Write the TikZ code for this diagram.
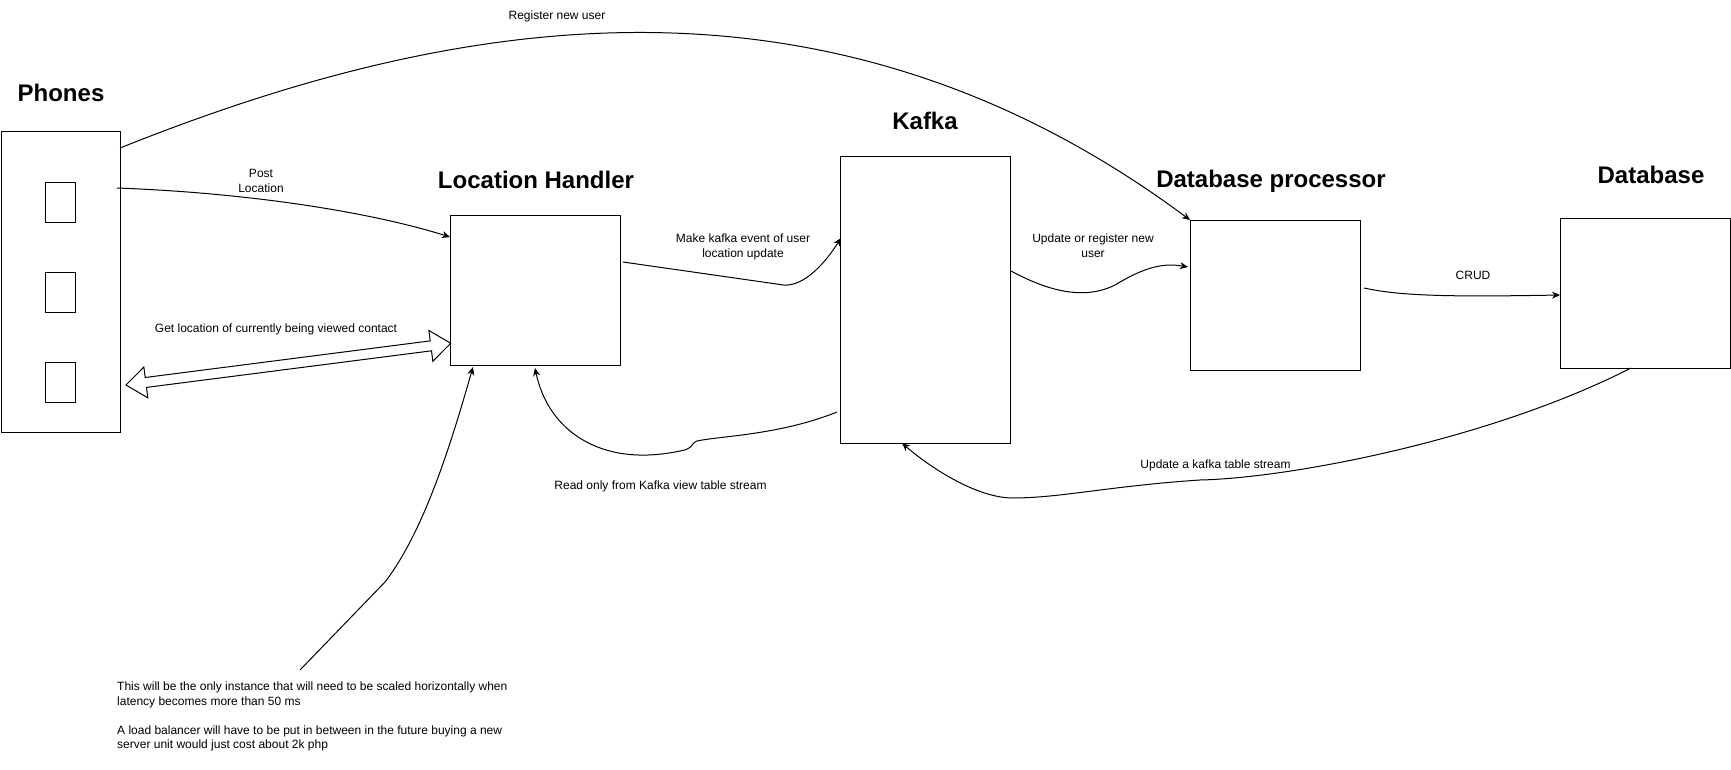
\documentclass[tikz,border=0pt]{standalone}
\usepackage{fontspec}
\setmainfont{Liberation Sans}
\usetikzlibrary{arrows.meta,calc}
\begin{document}
\begin{tikzpicture}[x=1pt,y=-1pt,
  box/.style={draw=black,line width=1pt,fill=white,inner sep=0pt,outer sep=0pt},
  ttl/.style={font=\fontsize{24}{29}\selectfont\bfseries,inner sep=0pt,anchor=base},
  lbl/.style={font=\fontsize{12}{15}\selectfont,inner sep=0pt,align=center},
  conn/.style={line width=1pt,-{Stealth[length=8pt,width=7pt,inset=2.5pt]}},
  hollow/.style={draw=black,fill=white,line width=1pt,line join=miter},
]
\useasboundingbox (0,0) rectangle (1731,770);

% boxes
\node[box,minimum width=119pt,minimum height=300pt] (ph) at (60.5,282) {};
\node[box,minimum width=30pt,minimum height=40pt] (s1) at (60.5,202.5) {};
\node[box,minimum width=30pt,minimum height=40pt] (s2) at (60.5,292.5) {};
\node[box,minimum width=30pt,minimum height=40pt] (s3) at (60.5,382.5) {};
\node[box,minimum width=170pt,minimum height=150pt] (lh) at (535,290) {};
\node[box,minimum width=170pt,minimum height=286pt] (kf) at (925,300) {};
\node[box,minimum width=170pt,minimum height=150pt] (dbp) at (1275,295) {};
\node[box,minimum width=170pt,minimum height=150pt] (db) at (1645,293) {};

% titles
\node[ttl] (tph) at (61,102) {Phones};
\node[ttl] (tlh) at (536,189) {Location Handler};
\node[ttl] (tkf) at (925,130) {Kafka};
\node[ttl] (tdbp) at (1271,188) {Database processor};
\node[ttl] (tdb) at (1651,183) {Database};

% labels
\node[lbl] (lreg) at (557,16) {Register new user};
\node[lbl] (lpost) at (261,181) {Post\\Location};
\node[lbl] (lget) at (276,329) {Get location of currently being viewed contact};
\node[lbl] (lmk) at (743,246.5) {Make kafka event of user\\location update};
\node[lbl] (lupd) at (1093,246) {Update or register new\\user};
\node[lbl] (lcrud) at (1473,275.5) {CRUD};
\node[lbl] (ltbl) at (1215.5,465.5) {Update a kafka table stream};
\node[lbl] (lread) at (660.5,486) {Read only from Kafka view table stream};
\node[font=\fontsize{12}{14.4}\selectfont,align=left,anchor=west,inner sep=0pt] (note) at (117,716.5)
  {This will be the only instance that will need to be scaled horizontally when\\
   latency becomes more than 50 ms\\[14.4pt]
   A load balancer will have to be put in between in the future buying a new\\
   server unit would just cost about 2k php};

% connectors
\draw[conn] ($(ph.north east)+(0,16)$) .. controls (440,20) and (820,-55) .. (dbp.north west);
\draw[conn] ($(ph.north east)+(-3,56)$) .. controls (250,193) and (370,212) .. ($(lh.north west)+(0,22)$);
\draw[conn] ($(lh.north east)+(3,47)$) -- (780,284.5) .. controls (800,289) and (822,268) .. ($(kf.north west)+(1,81)$);
\draw[conn] ($(kf.north east)+(1,114)$) .. controls (1050,292) and (1085,300) .. (1115,285)
  .. controls (1140,270) and (1160,262) .. ($(dbp.north west)+(-2,47)$);
\draw[conn] ($(dbp.north east)+(4,68)$) .. controls (1400,296) and (1450,297) .. ($(db.north west)+(0,77)$);
\draw[conn] ($(db.south west)+(71,0)$) .. controls (1490,440) and (1290,478) .. (1200,480)
  .. controls (1110,486) and (1060,498) .. (1013,498)
  .. controls (975,498) and (927,465) .. ($(kf.south west)+(62,0)$);
\draw[conn] ($(kf.south west)+(-3,-31)$) .. controls (780,435) and (720,436) .. (697,441)
  .. controls (691,442.5) and (694,449) .. (680,451)
  .. controls (600,468) and (548,430) .. ($(lh.south west)+(85,3)$);
\coordinate (nt) at (300,670);
\draw[conn] (nt) -- (385,582) .. controls (425,530) and (452,440) .. ($(lh.south west)+(23,2)$);

% hollow double arrow
\coordinate (dL) at ($(ph.south east)+(6,-47)$);
\coordinate (dR) at ($(lh.south west)+(0.7,-21.7)$);
\coordinate (dA) at ($(dL)!20pt!(dR)$);
\coordinate (dB) at ($(dR)!20pt!(dL)$);
\draw[hollow] (dL) -- ($(dA)!15.5pt!90:(dR)$) -- ($(dA)!5pt!90:(dR)$) -- ($(dB)!5pt!-90:(dL)$)
  -- ($(dB)!15.5pt!-90:(dL)$) -- (dR) -- ($(dB)!15.5pt!90:(dL)$) -- ($(dB)!5pt!90:(dL)$)
  -- ($(dA)!5pt!-90:(dR)$) -- ($(dA)!15.5pt!-90:(dR)$) -- cycle;
\end{tikzpicture}
\end{document}
